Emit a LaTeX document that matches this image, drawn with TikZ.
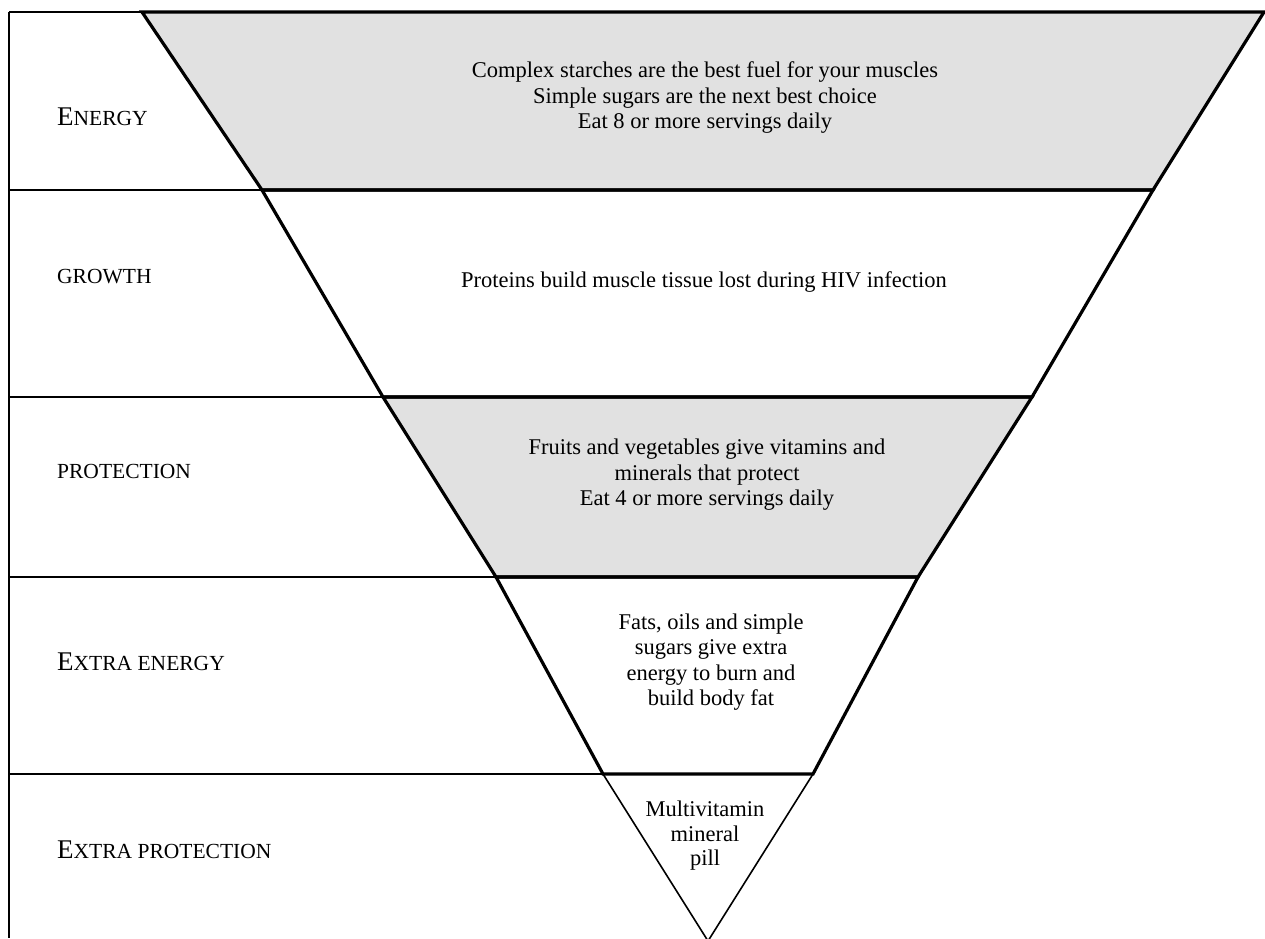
\documentclass[tikz,border=0pt]{standalone}
\usepackage{fontspec}
\setmainfont{Liberation Serif}
\definecolor{layergray}{RGB}{225,225,225}
\newcommand{\lblbig}[1]{{\fontsize{27}{27}\selectfont #1}}
\newcommand{\lblsml}[1]{{\fontsize{21.5}{21.5}\selectfont #1}}
\tikzset{
  layerline/.style={line width=3.2pt, line join=miter},
  tipline/.style={line width=1.6pt},
  rowline/.style={line width=2.9pt},
  thinrow/.style={line width=2.2pt},
  bodytext/.style={align=center, inner sep=0pt, font=\fontsize{22.5}{25.5}\selectfont},
  lbl/.style={anchor=base west, inner sep=0pt}
}
\begin{document}
\begin{tikzpicture}[x=1pt,y=-1pt]
\useasboundingbox (0,0) rectangle (1265,938);
% corners
\coordinate (L0) at (142,12);  \coordinate (R0) at (1264,12);
\coordinate (L1) at (262,190); \coordinate (R1) at (1153,190);
\coordinate (L2) at (383,397); \coordinate (R2) at (1032,397);
\coordinate (L3) at (496,577); \coordinate (R3) at (918,577);
\coordinate (L4) at (603,774); \coordinate (R4) at (813,774);
\coordinate (A)  at (708,941);
% left column
\coordinate (T0) at (9,12);  \coordinate (T1) at (9,190);
\coordinate (T2) at (9,397); \coordinate (T3) at (9,577);
\coordinate (T4) at (9,774); \coordinate (TB) at (9,938);
\draw[rowline] (T0) -- (TB);
\draw[rowline] (T0) -- (L0);
\draw[rowline] (T1) -- (L1);
\draw[rowline] (T2) -- (L2);
\draw[rowline] (T3) -- (L3);
\draw[thinrow] (T4) -- (L4);
% fills
\fill[layergray] (L0) -- (R0) -- (R1) -- (L1) -- cycle;
\fill[layergray] (L2) -- (R2) -- (R3) -- (L3) -- cycle;
% borders
\draw[tipline] (L4) -- (A) -- (R4);
\draw[layerline] (L0) -- (R0) -- (R1) -- (L1) -- cycle;
\draw[layerline] (L1) -- (R1) -- (R2) -- (L2) -- cycle;
\draw[layerline] (L2) -- (R2) -- (R3) -- (L3) -- cycle;
\draw[layerline] (L3) -- (R3) -- (R4) -- (L4) -- cycle;
% labels
\node[lbl] (energy) at (57,125) {\lblbig{E}\lblsml{NERGY}};
\node[lbl] (growth) at (57,283) {\lblsml{GROWTH}};
\node[lbl] (protection) at (57,478) {\lblsml{PROTECTION}};
\node[lbl] (xenergy) at (57,670) {\lblbig{E}\lblsml{XTRA ENERGY}};
\node[lbl] (xprotection) at (57,858) {\lblbig{E}\lblsml{XTRA PROTECTION}};
% texts
\node[bodytext] (t1) at (705,98) {Complex starches are the best fuel for your muscles\\Simple sugars are the next best choice\\Eat 8 or more servings daily};
\node[bodytext] (t2) at (704,282) {Proteins build muscle tissue lost during HIV infection};
\node[bodytext] (t3) at (707,475) {Fruits and vegetables give vitamins and\\minerals that protect\\Eat 4 or more servings daily};
\node[bodytext] (t4) at (711,662) {Fats, oils and simple\\sugars give extra\\energy to burn and\\build body fat};
\node[bodytext, font=\fontsize{22.5}{24.5}\selectfont] (t5) at (705,836) {Multivitamin\\mineral\\pill};
\end{tikzpicture}
\end{document}
